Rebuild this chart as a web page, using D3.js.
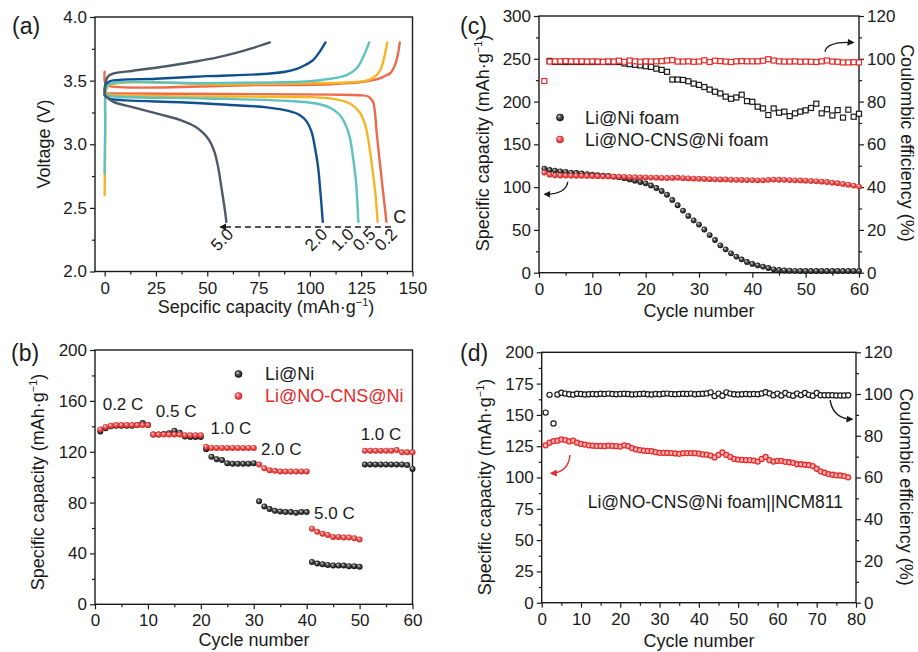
<!DOCTYPE html>
<html>
<head>
<meta charset="utf-8">
<script src="https://cdn.jsdelivr.net/npm/d3@7/dist/d3.min.js"></script>
<style>
  body { margin: 0; background: #fff; }
  svg text { font-family: "Liberation Sans", Arial, sans-serif; fill: #1a1a1a; }
</style>
</head>
<body>
<svg id="fig" width="918" height="652"></svg>
<script>
// ---------- (a) voltage profiles, [capacity, voltage] ----------
const aRates = ['0.2', '0.5', '1.0', '2.0', '5.0'];
const aCharge02 = [[0, 3.57], [0.3, 3.48], [2, 3.458], [75, 3.465], [110, 3.472], [126, 3.49], [134, 3.517], [137, 3.54], [139, 3.556], [141.4, 3.62], [142.8, 3.70], [143.8, 3.80]];
const aDischarge02 = [[0, 3.40], [60, 3.395], [110, 3.39], [124, 3.385], [128.4, 3.375], [130.8, 3.333], [131.7, 3.25], [132.5, 3.1], [133.8, 2.9], [135.5, 2.65], [137.3, 2.39]];
const aCharge05 = [[0, 2.60], [0.3, 3.1], [0.6, 3.42], [2, 3.462], [60, 3.47], [100, 3.478], [117.9, 3.485], [124, 3.492], [127.6, 3.50], [130.5, 3.52], [132.5, 3.543], [134.5, 3.59], [135.7, 3.647], [137.7, 3.80]];
const aDischarge05 = [[0, 3.395], [5, 3.385], [60, 3.375], [100, 3.37], [110, 3.36], [119.5, 3.32], [124.3, 3.25], [127, 3.15], [128.8, 3.0], [130.5, 2.8], [132, 2.6], [133, 2.39]];
const aCharge10 = [[0, 2.77], [0.3, 3.2], [0.6, 3.43], [2, 3.47], [50, 3.48], [100, 3.495], [110, 3.515], [114, 3.525], [117.9, 3.543], [122.7, 3.595], [126, 3.686], [128.9, 3.80]];
const aDischarge10 = [[0, 3.39], [5, 3.375], [50, 3.36], [90, 3.34], [103, 3.32], [110, 3.285], [114.6, 3.23], [117.5, 3.15], [119.5, 3.05], [121, 2.9], [122.5, 2.7], [123.6, 2.39]];
const aCharge20 = [[0, 3.40], [0.5, 3.47], [2.5, 3.495], [25, 3.515], [50, 3.535], [75, 3.55], [88, 3.57], [94, 3.595], [98, 3.625], [101.5, 3.66], [104.5, 3.72], [107.6, 3.80]];
const aDischarge20 = [[0, 3.385], [2, 3.36], [10, 3.345], [37, 3.33], [60, 3.31], [79, 3.29], [90, 3.26], [95, 3.23], [98.4, 3.18], [100.8, 3.10], [102.4, 2.98], [104, 2.82], [105.2, 2.61], [106.3, 2.39]];
const aCharge50 = [[0, 3.40], [0.3, 3.47], [1.5, 3.53], [4, 3.555], [14, 3.578], [30, 3.613], [45, 3.652], [55, 3.683], [64, 3.718], [72, 3.755], [80.5, 3.80]];
const aDischarge50 = [[0, 3.385], [4, 3.335], [14, 3.29], [27, 3.235], [37, 3.19], [44, 3.14], [48, 3.09], [51, 3.03], [53.5, 2.94], [55.3, 2.82], [57, 2.65], [58.6, 2.48], [59.3, 2.39]];

// ---------- (b) rate capability, cycles 1..60 ----------
const bLiNi = [136, 138.5, 140, 140.5, 140.5, 140.5, 140.5, 141, 142.5, 141,
  133.5, 133.5, 134, 134.5, 136.5, 135, 132, 131.5, 131.5, 131.5,
  122, 116, 114, 113.5, 111, 110.5, 110.5, 110.5, 110.5, 111,
  81, 77, 75, 73.5, 73, 72.5, 72.5, 72, 72.5, 72.5,
  33.3, 32, 31.5, 31, 30.5, 30.5, 30.5, 30, 30, 29.5,
  110, 110, 110, 110, 110, 110, 110, 110, 109.5, 106.5];
const bNoCns = [137.5, 139.5, 140.5, 141, 141, 141, 141, 141, 141, 141,
  133.5, 133.5, 133.5, 133.5, 133.5, 133.5, 133, 133, 133, 133,
  124, 123, 123, 123, 123, 123, 123, 123, 123, 123,
  110, 107, 105.5, 105, 104.5, 104.5, 104.5, 104.5, 104.5, 104.5,
  59.5, 57, 55.5, 54.5, 53, 53, 52.5, 52.5, 52, 51,
  120.8, 120.8, 120.8, 120.8, 120.8, 120.8, 121.3, 119.5, 119.5, 119.5];
const bRateLabels = ['0.2 C', '0.5 C', '1.0 C', '2.0 C', '5.0 C', '1.0 C'];

// ---------- (c) cycling at 1 C, cycles 1..60 ----------
const cLiNiCap = [121.5, 120, 119.3, 118.5, 117.8, 117, 116.5, 116, 115.3, 114.6,
  114, 113.5, 113, 112.3, 111.6, 110.5, 109, 107.6, 106, 104.5,
  102, 99, 95.5, 91.2, 85, 78.8, 72.6, 66.3, 61.2, 56.2,
  50.5, 44, 38.2, 32, 27.3, 22.7, 18.8, 15.6, 12.5, 10.2,
  8.6, 7.1, 5.5, 4, 3.2, 2.6, 2.4, 2.2, 2, 2,
  2, 2, 2, 2, 2, 2, 2, 2, 2, 2];
const cNoCnsCap = [117, 114.6, 113.8, 113.6, 113.5, 113.4, 113.3, 113.2, 113.1, 113,
  112.8, 112.6, 112.5, 112.3, 112.2, 112, 111.8, 111.7, 111.5, 111.4,
  111.2, 111, 110.8, 110.7, 110.8, 111, 110.5, 110.2, 110, 109.9,
  109.6, 109.3, 109.1, 109, 109, 108.7, 108.5, 108.4, 108.3, 108.2,
  108, 107.9, 108.5, 108.8, 108.6, 108.5, 108.2, 108, 107.8, 107.6,
  107.2, 106.8, 106.4, 106, 105.2, 104.6, 103.8, 102.9, 101.8, 100.6];
const cLiNiCE = [null, 99, 98.5, 98.5, 98.5, 98.5, 98.5, 98.5, 98.5, 98.5,
  98.5, 98.5, 98.5, 98.5, 98.5, 97.8, 97.5, 97.2, 96.9, 96.5,
  96.2, 95.4, 94.8, 93.9, 90.3, 90.3, 90.1, 89.5, 88.4, 87.8,
  86.8, 85.6, 84.6, 83.8, 82.3, 81.3, 81.9, 83.2, 80.2, 79.9,
  77.6, 76.8, 73.7, 76.8, 74.8, 75.3, 73.2, 74.5, 75.3, 75.9,
  77, 79, 74.5, 76.4, 73.5, 76, 72.5, 76.2, 72.9, 74.3];
const cNoCnsCE = [89.6, 98.7, 98.8, 98.8, 98.9, 98.8, 98.8, 98.8, 98.7, 98.8,
  98.7, 98.6, 98.8, 98.7, 99.1, 98.6, 99.2, 98.8, 98.6, 98.8,
  98.7, 98.8, 98.9, 99.2, 99.4, 98.7, 98.7, 98.8, 98.6, 98.7,
  99.3, 98.5, 99.1, 98.9, 98.7, 98.5, 98.8, 98.9, 98.8, 98.8,
  98.8, 99.1, 99.8, 99.2, 98.8, 98.7, 98.7, 98.8, 98.6, 98.7,
  98.6, 98.5, 98.8, 99.2, 98.7, 98.6, 98.3, 98.3, 98.4, 98.3];

// ---------- (d) full cell vs NCM811, cycles 1..78 ----------
const dCap = [125.7, 127.8, 129.1, 129.4, 130.4, 129.9, 128.8, 129.4, 127.8, 126.8,
  126.3, 125.7, 125.4, 125.2, 125.2, 125, 125.4, 125.2, 125, 124.7,
  125.7, 125.1, 123.4, 122.4, 121.8, 121.4, 121.2, 121, 120.2, 119.7,
  119.6, 119.6, 119.5, 119.2, 118.9, 119.4, 119.5, 119.5, 119.4, 119,
  118.4, 118.2, 117.5, 116, 118, 120, 118, 116.4, 114.8, 114.3,
  114, 113.8, 113.8, 113.5, 112.7, 114.8, 116.4, 113.8, 112.7, 113.2,
  113.3, 112.5, 112.2, 111.7, 110.6, 110.6, 110.2, 110, 109.1, 107,
  104.9, 103.8, 102.7, 102.2, 101.7, 101.6, 101.1, 100.1];
const dCE = [91.1, 99.6, 85.9, 99.8, 100.6, 100.2, 99.9, 99.7, 100.1, 100,
  99.8, 99.9, 100, 99.9, 100.1, 100, 100.2, 100, 99.9, 100,
  100.1, 100, 99.8, 99.9, 100, 100.1, 99.9, 99.8, 100, 99.9,
  100.1, 100.2, 100, 99.9, 100, 100.1, 100, 100.2, 99.9, 100,
  100.1, 100.3, 100.8, 99, 100.2, 99.2, 100.8, 100.2, 99.9, 99.8,
  99.9, 100, 99.9, 100, 99.9, 100.3, 100.9, 100.3, 99.4, 100.2,
  99.3, 100.5, 99.6, 99.2, 100.2, 99.5, 100.5, 99.6, 99.2, 100.5,
  99.4, 99.4, 99.4, 99.4, 99.3, 99.3, 99.3, 99.4];

// ---------- drawing ----------
const svg = d3.select('#fig');
const ink = '#1a1a1a';
const red = '#e52a2a';
const fontFam = '"Liberation Sans", Arial, sans-serif';

const defs = svg.append('defs');
function ballGradient(id, hi, mid, lo) {
  const gr = defs.append('radialGradient').attr('id', id)
    .attr('cx', '50%').attr('cy', '50%').attr('r', '55%')
    .attr('fx', '35%').attr('fy', '32%');
  gr.append('stop').attr('offset', '0%').attr('stop-color', hi);
  gr.append('stop').attr('offset', '40%').attr('stop-color', mid);
  gr.append('stop').attr('offset', '100%').attr('stop-color', lo);
}
ballGradient('ballK', '#eeeeee', '#555555', '#000000');
ballGradient('ballR', '#fff0f0', '#f06262', '#c81818');

function arrowMarker(id, color) {
  defs.append('marker').attr('id', id)
    .attr('viewBox', '0 0 10 10').attr('refX', 8).attr('refY', 5)
    .attr('markerWidth', 7).attr('markerHeight', 7)
    .attr('markerUnits', 'userSpaceOnUse').attr('orient', 'auto')
    .append('path').attr('d', 'M0,0 L10,5 L0,10 z').attr('fill', color);
}
arrowMarker('arrK', ink);
arrowMarker('arrR', red);

function axisPair(g, axisFn, scale, major, minor, fmt, transform, pad) {
  const m = g.append('g').attr('transform', transform)
    .call(axisFn(scale).tickValues(minor).tickSize(3).tickFormat(''));
  m.select('.domain').remove();
  m.selectAll('line').attr('stroke', ink).attr('stroke-width', 1.2);
  const a = g.append('g').attr('transform', transform)
    .call(axisFn(scale).tickValues(major).tickSize(5).tickPadding(pad).tickFormat(fmt));
  a.select('.domain').remove();
  a.selectAll('line').attr('stroke', ink).attr('stroke-width', 1.2);
  a.attr('font-size', 17).attr('font-family', fontFam);
  a.selectAll('text').attr('fill', ink);
}

function makePanel(box, xDom, yDom, xMajor, xMinor, yMajor, yMinor, yFmt) {
  const g = svg.append('g');
  const x = d3.scaleLinear().domain(xDom).range([box.l, box.r]);
  const y = d3.scaleLinear().domain(yDom).range([box.b, box.t]);
  axisPair(g, d3.axisBottom, x, xMajor, xMinor, d3.format('d'), `translate(0,${box.b})`, 5);
  axisPair(g, d3.axisLeft, y, yMajor, yMinor, yFmt, `translate(${box.l},0)`, 3);
  g.append('rect')
    .attr('x', box.l).attr('y', box.t)
    .attr('width', box.r - box.l).attr('height', box.b - box.t)
    .attr('fill', 'none').attr('stroke', ink).attr('stroke-width', 1.4);
  return { g, x, y };
}

function title(g, x, y, rot, parts, anchor) {
  const t = g.append('text')
    .attr('transform', `translate(${x},${y}) rotate(${rot})`)
    .attr('text-anchor', anchor || 'middle')
    .attr('font-size', 18);
  parts.forEach((p) => {
    t.append('tspan').attr('font-size', p.sup ? 11 : 18).attr('dy', p.dy || 0).text(p.t);
  });
  return t;
}
const capParts = [{ t: 'Specific capacity (mAh·g' }, { t: '−1', sup: true, dy: -7 }, { t: ')', dy: 7 }];

function panelLabel(txt, x, y) {
  svg.append('text').attr('x', x).attr('y', y).attr('font-size', 23).text(txt);
}

// ===== (a) =====
const pa = makePanel({ l: 95, r: 412.5, t: 17, b: 271.5 }, [-4.7, 150], [2, 4],
  d3.range(0, 151, 25), d3.range(12.5, 150, 25),
  [2, 2.5, 3, 3.5, 4], [2.25, 2.75, 3.25, 3.75], d3.format('.1f'));
const aColors = ['#ec6b4b', '#f4b625', '#5ec3bf', '#10508e', '#4d5966'];
const aCurves = [
  [aCharge02, aDischarge02], [aCharge05, aDischarge05], [aCharge10, aDischarge10],
  [aCharge20, aDischarge20], [aCharge50, aDischarge50],
];
const aLine = d3.line().x(d => pa.x(d[0])).y(d => pa.y(d[1])).curve(d3.curveCatmullRom.alpha(0.5));
aCurves.forEach((pair, i) => {
  pa.g.selectAll(null).data(pair).join('path')
    .attr('d', aLine)
    .attr('fill', 'none')
    .attr('stroke', aColors[i])
    .attr('stroke-width', 2.4)
    .attr('stroke-linejoin', 'round')
    .attr('stroke-linecap', 'round');
});
pa.g.append('line')
  .attr('x1', pa.x(139.5)).attr('x2', pa.x(56.5))
  .attr('y1', pa.y(2.35)).attr('y2', pa.y(2.35))
  .attr('stroke', ink).attr('stroke-width', 1.4)
  .attr('stroke-dasharray', '6,4')
  .attr('marker-end', 'url(#arrK)');
pa.g.append('text').attr('x', pa.x(140.6)).attr('y', pa.y(2.384)).attr('font-size', 18).text('C');
const aLabelCap = [143, 132.5, 121.9, 109, 63.3];
aRates.forEach((r, i) => {
  pa.g.append('text')
    .attr('transform', `translate(${pa.x(aLabelCap[i])},${pa.y(2.285)}) rotate(-45)`)
    .attr('text-anchor', 'end').attr('font-size', 17)
    .text(r);
});
title(pa.g, 50, 144, -90, [{ t: 'Voltage (V)' }]);
title(pa.g, 266, 313, 0, [{ t: 'Sepcific capacity (mAh·g' }, { t: '−1', sup: true, dy: -7 }, { t: ')', dy: 7 }]);
panelLabel('(a)', 12, 34);

// ===== (b) =====
const pb = makePanel({ l: 95, r: 412.5, t: 350, b: 604.3 }, [0, 60], [0, 200],
  d3.range(0, 61, 10), d3.range(5, 60, 10),
  d3.range(0, 201, 40), d3.range(20, 200, 40), d3.format('d'));
pb.g.append('g').selectAll('circle').data(bLiNi).join('circle')
  .attr('cx', (d, i) => pb.x(i + 1)).attr('cy', d => pb.y(d)).attr('r', 3)
  .attr('fill', 'url(#ballK)');
pb.g.append('g').selectAll('circle').data(bNoCns).join('circle')
  .attr('cx', (d, i) => pb.x(i + 1)).attr('cy', d => pb.y(d)).attr('r', 3)
  .attr('fill', 'url(#ballR)');
const bLabelPos = [[1.45, 152.8], [11.5, 147], [21.85, 133.7], [31.35, 117.4], [41.4, 66.9], [50.2, 129.6]];
bRateLabels.forEach((t, i) => {
  pb.g.append('text').attr('x', pb.x(bLabelPos[i][0])).attr('y', pb.y(bLabelPos[i][1]))
    .attr('font-size', 17).text(t);
});
pb.g.append('circle').attr('cx', 238.5).attr('cy', 374).attr('r', 3.8).attr('fill', 'url(#ballK)');
pb.g.append('text').attr('x', 265).attr('y', 380).attr('font-size', 18).text('Li@Ni');
pb.g.append('circle').attr('cx', 238.5).attr('cy', 396).attr('r', 3.8).attr('fill', 'url(#ballR)');
pb.g.append('text').attr('x', 265).attr('y', 402).attr('font-size', 18).style('fill', red).text('Li@NO-CNS@Ni');
title(pb.g, 44, 482, -90, capParts);
title(pb.g, 254, 646, 0, [{ t: 'Cycle number' }]);
panelLabel('(b)', 11, 361);

// ===== (c) =====
const pc = makePanel({ l: 539, r: 859, t: 16, b: 272.7 }, [0, 60], [0, 300],
  d3.range(0, 61, 10), d3.range(5, 60, 10),
  d3.range(0, 301, 50), d3.range(25, 300, 50), d3.format('d'));
const cY2 = d3.scaleLinear().domain([0, 120]).range([272.7, 16]);
axisPair(pc.g, d3.axisRight, cY2, d3.range(0, 121, 20), d3.range(10, 120, 20), d3.format('d'), 'translate(859,0)', 3);
function squares(g, data, color) {
  g.append('g').selectAll('rect').data(data.map((v, i) => [i + 1, v]).filter(d => d[1] !== null)).join('rect')
    .attr('x', d => pc.x(d[0]) - 2.5).attr('y', d => cY2(d[1]) - 2.5)
    .attr('width', 5).attr('height', 5)
    .attr('fill', '#fff').attr('stroke', color).attr('stroke-width', 1.2);
}
squares(pc.g, cLiNiCE, ink);
squares(pc.g, cNoCnsCE, red);
pc.g.append('g').selectAll('circle').data(cLiNiCap).join('circle')
  .attr('cx', (d, i) => pc.x(i + 1)).attr('cy', d => pc.y(d)).attr('r', 2.9)
  .attr('fill', 'url(#ballK)');
pc.g.append('g').selectAll('circle').data(cNoCnsCap).join('circle')
  .attr('cx', (d, i) => pc.x(i + 1)).attr('cy', d => pc.y(d)).attr('r', 2.9)
  .attr('fill', 'url(#ballR)');
pc.g.append('circle').attr('cx', 560).attr('cy', 117.5).attr('r', 3.8).attr('fill', 'url(#ballK)');
pc.g.append('text').attr('x', 585).attr('y', 123.5).attr('font-size', 18).text('Li@Ni foam');
pc.g.append('circle').attr('cx', 560).attr('cy', 139.5).attr('r', 3.8).attr('fill', 'url(#ballR)');
pc.g.append('text').attr('x', 585).attr('y', 145.5).attr('font-size', 18).text('Li@NO-CNS@Ni foam');
pc.g.append('path')
  .attr('d', `M${pc.x(53.6)},${cY2(103.3)} Q${pc.x(54)},${cY2(108.2)} ${pc.x(58.9)},${cY2(107.6)}`)
  .attr('fill', 'none').attr('stroke', ink).attr('stroke-width', 1.4).attr('marker-end', 'url(#arrK)');
pc.g.append('path')
  .attr('d', `M${pc.x(5.4)},${pc.y(106.3)} Q${pc.x(5.1)},${pc.y(91.8)} ${pc.x(1.1)},${pc.y(91.6)}`)
  .attr('fill', 'none').attr('stroke', ink).attr('stroke-width', 1.4).attr('marker-end', 'url(#arrK)');
title(pc.g, 489, 143, -90, capParts);
title(pc.g, 901, 143, 90, [{ t: 'Coulombic efficiency (%)' }]);
title(pc.g, 699, 317, 0, [{ t: 'Cycle number' }]);
panelLabel('(c)', 460, 34);

// ===== (d) =====
const pd = makePanel({ l: 541.7, r: 856, t: 352.3, b: 602.7 }, [0, 80], [0, 200],
  d3.range(0, 81, 10), d3.range(5, 80, 10),
  d3.range(0, 201, 25), d3.range(12.5, 200, 25), d3.format('d'));
const dY2 = d3.scaleLinear().domain([0, 120]).range([602.7, 352.3]);
axisPair(pd.g, d3.axisRight, dY2, d3.range(0, 121, 20), d3.range(10, 120, 20), d3.format('d'), 'translate(856,0)', 3);
pd.g.append('g').selectAll('circle').data(dCE).join('circle')
  .attr('cx', (d, i) => pd.x(i + 1)).attr('cy', d => dY2(d)).attr('r', 2.6)
  .attr('fill', '#fff').attr('stroke', ink).attr('stroke-width', 1.2);
pd.g.append('g').selectAll('circle').data(dCap).join('circle')
  .attr('cx', (d, i) => pd.x(i + 1)).attr('cy', d => pd.y(d)).attr('r', 2.5)
  .attr('fill', '#f8b4b4').attr('stroke', red).attr('stroke-width', 1.3);
pd.g.append('text').attr('x', pd.x(11.7)).attr('y', pd.y(75.4)).attr('font-size', 17.5)
  .text('Li@NO-CNS@Ni foam||NCM811');
pd.g.append('path')
  .attr('d', `M${pd.x(73.4)},${dY2(97.1)} Q${pd.x(74.2)},${dY2(88.2)} ${pd.x(79)},${dY2(87.9)}`)
  .attr('fill', 'none').attr('stroke', ink).attr('stroke-width', 1.4).attr('marker-end', 'url(#arrK)');
pd.g.append('path')
  .attr('d', `M${pd.x(7.2)},${pd.y(118)} Q${pd.x(6.8)},${pd.y(104)} ${pd.x(2.4)},${pd.y(103.4)}`)
  .attr('fill', 'none').attr('stroke', red).attr('stroke-width', 1.4).attr('marker-end', 'url(#arrR)');
title(pd.g, 491, 487, -90, capParts);
title(pd.g, 900, 487, 90, [{ t: 'Coulombic efficiency (%)' }]);
title(pd.g, 699, 647, 0, [{ t: 'Cycle number' }]);
panelLabel('(d)', 460, 361);
</script>
</body>
</html>
